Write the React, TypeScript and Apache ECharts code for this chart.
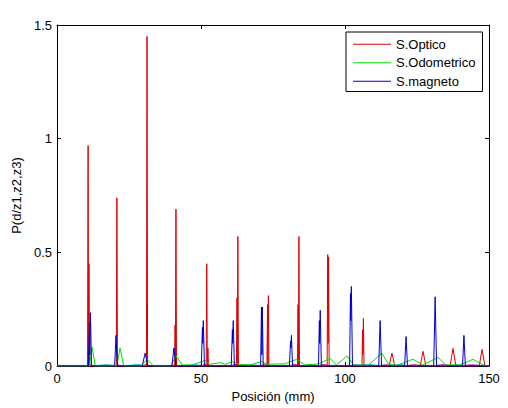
import React, { useEffect, useRef } from "react";
import * as echarts from "echarts";

const FONT = "Liberation Sans, Arial, sans-serif";

const legendNames = ["S.Optico", "S.Odometrico", "S.magneto"];
const xTicks = [0, 50, 100, 150];
const yTicks = [0, 0.5, 1, 1.5];

const optico: number[][] = [
  [0, 0], [10.6, 0], [10.8, 0.97], [10.95, 0], [11.1, 0.45], [11.3, 0],
  [20.6, 0], [20.8, 0.74], [21.0, 0],
  [31.05, 0], [31.25, 1.45], [31.45, 0],
  [40.9, 0], [41.0, 0.18], [41.1, 0], [41.3, 0.69], [41.5, 0],
  [51.8, 0], [52.0, 0.45], [52.2, 0], [52.4, 0.08], [52.6, 0],
  [62.3, 0], [62.5, 0.3], [62.6, 0], [62.8, 0.57], [63.0, 0],
  [72.9, 0], [73.1, 0.27], [73.2, 0], [73.4, 0.31], [73.6, 0],
  [83.5, 0], [83.7, 0.27], [83.8, 0], [84.0, 0.57], [84.2, 0],
  [93.8, 0], [94.0, 0.49], [94.15, 0.1], [94.3, 0.48], [94.5, 0],
  [105.9, 0], [106.1, 0.16], [106.2, 0.05], [106.4, 0.21], [106.6, 0],
  [115.3, 0], [116.3, 0.057], [117.3, 0],
  [126.1, 0], [127.1, 0.065], [128.1, 0],
  [136.5, 0], [137.5, 0.078], [138.5, 0],
  [146.6, 0], [147.6, 0.074], [148.6, 0],
  [150, 0],
];

const odometrico: number[][] = [
  [0, 0], [11.3, 0], [12.2, 0.083], [13.3, 0],
  [20.8, 0], [21.9, 0.08], [23.2, 0],
  [29.2, 0], [31.25, 0.03], [33.5, 0],
  [39.5, 0], [41.3, 0.045], [43.5, 0.005], [47, 0.005], [51.4, 0.025], [53, 0.008],
  [56.6, 0.015], [58.5, 0.008], [61, 0.02], [63, 0.008], [67, 0.005], [71, 0.02],
  [73, 0.008], [79, 0.01], [83.3, 0.03], [86, 0.005], [91, 0.01], [94.8, 0.035],
  [97, 0.005], [100.7, 0.045], [103, 0.005], [108, 0.003], [112.8, 0.057], [115, 0.01],
  [118, 0.003], [123.6, 0.03], [127, 0.005], [132.3, 0.038], [135, 0.005], [140, 0.005],
  [144.4, 0.03], [148, 0.005], [150, 0],
];

const magneto: number[][] = [
  [0, 0], [10.9, 0], [11.3, 0.19], [11.4, 0.05], [11.6, 0.235], [12.0, 0],
  [20.0, 0], [20.5, 0.135], [20.6, 0.1], [20.9, 0.02], [21.2, 0],
  [29.6, 0], [30.6, 0.057], [31.6, 0],
  [39.9, 0], [40.6, 0.08], [41.3, 0],
  [50.1, 0], [50.5, 0.17], [50.6, 0.1], [50.8, 0.2], [51.2, 0],
  [60.5, 0], [60.9, 0.16], [61.0, 0.1], [61.2, 0.2], [61.6, 0],
  [70.7, 0], [71.0, 0.26], [71.15, 0.05], [71.3, 0.26], [71.6, 0],
  [80.7, 0], [81.1, 0.11], [81.2, 0.08], [81.4, 0.135], [81.8, 0],
  [90.8, 0], [91.1, 0.2], [91.2, 0.1], [91.4, 0.245], [91.8, 0],
  [101.6, 0], [101.9, 0.32], [102.0, 0.2], [102.2, 0.35], [102.6, 0],
  [111.7, 0], [112.2, 0.2], [112.7, 0],
  [120.7, 0], [121.2, 0.13], [121.7, 0],
  [130.8, 0], [131.3, 0.305], [131.8, 0],
  [140.8, 0], [141.3, 0.135], [141.8, 0],
  [150, 0],
];

const magenta: number[][] = [
  [0, 0.002], [10.5, 0.002], [11.2, 0.008], [12, 0.002], [20.3, 0.002], [20.9, 0.008],
  [21.6, 0.002], [30.2, 0.002], [31.0, 0.01], [32, 0.002], [40.2, 0.002], [41.0, 0.008],
  [41.8, 0.002], [50.3, 0.002], [51.2, 0.008], [52, 0.002], [60.6, 0.002], [61.8, 0.008],
  [63, 0.002], [70.8, 0.002], [72, 0.008], [73.5, 0.002], [81, 0.002], [82.5, 0.008],
  [84, 0.002], [91, 0.002], [92.5, 0.008], [94.3, 0.002], [101.8, 0.002], [103, 0.006],
  [106.3, 0.002], [112, 0.002], [114, 0.006], [116.5, 0.002], [121, 0.002], [124, 0.006],
  [127, 0.002], [131, 0.002], [134, 0.006], [137.5, 0.002], [141, 0.002], [144, 0.006],
  [147.5, 0.002], [150, 0.002],
];

const cyan: number[][] = [
  [0, 0.003], [14, 0.003], [17, 0.006], [20, 0.003], [25, 0.003], [28, 0.007], [30, 0.003],
  [45, 0.003], [48, 0.006], [50, 0.003], [65, 0.003], [68, 0.006], [70, 0.003], [86, 0.003],
  [88, 0.006], [90, 0.003], [104, 0.003], [108, 0.008], [111, 0.003], [117, 0.003],
  [119, 0.008], [121, 0.003], [137, 0.003], [139, 0.007], [141, 0.003], [150, 0.003],
];

export default function App() {
  const ref = useRef<HTMLDivElement>(null);
  useEffect(() => {
    if (!ref.current) return;
    const chart = echarts.init(ref.current, undefined, { renderer: "svg" });
    const axisLabel = { fontFamily: FONT, fontSize: 13, color: "#000" };
    const axisLine = { show: true, onZero: false, lineStyle: { color: "#000", width: 1 } };
    const axisTick = { show: true, inside: true, length: 4, lineStyle: { color: "#000" } };
    const line = (name: string, data: number[][], color: string, z: number) => ({
      name,
      type: "line",
      data,
      symbol: "none",
      showSymbol: false,
      z,
      lineStyle: { color, width: 1 },
      itemStyle: { color },
    });
    chart.setOption({
      animation: false,
      backgroundColor: "#fff",
      grid: { left: 57, top: 25, right: 19, bottom: 41, containLabel: false },
      legend: {
        orient: "vertical",
        left: 346,
        top: 32,
        data: legendNames,
        icon: "path://M0,0L38,0L38,1L0,1Z",
        itemWidth: 38,
        itemHeight: 1,
        itemGap: 4,
        padding: [5, 7, 3, 7],
        borderColor: "#000",
        borderWidth: 1,
        backgroundColor: "#fff",
        selectedMode: false,
        textStyle: { fontFamily: FONT, fontSize: 13, color: "#000", lineHeight: 14.5 },
      },
      xAxis: [
        {
          type: "value",
          min: xTicks[0],
          max: xTicks[xTicks.length - 1],
          interval: 50,
          position: "bottom",
          name: "Posición (mm)",
          nameLocation: "middle",
          nameGap: 22,
          nameTextStyle: { fontFamily: FONT, fontSize: 13, color: "#000" },
          axisLine,
          axisTick,
          axisLabel: { ...axisLabel, margin: 6 },
          splitLine: { show: false },
        },
        {
          type: "value",
          min: xTicks[0],
          max: xTicks[xTicks.length - 1],
          interval: 50,
          position: "top",
          axisLine,
          axisTick,
          axisLabel: { show: false },
          splitLine: { show: false },
        },
      ],
      yAxis: [
        {
          type: "value",
          min: yTicks[0],
          max: yTicks[yTicks.length - 1],
          interval: 0.5,
          position: "left",
          name: "P(d/z1,z2,z3)",
          nameLocation: "middle",
          nameGap: 30,
          nameTextStyle: { fontFamily: FONT, fontSize: 13, color: "#000" },
          axisLine,
          axisTick,
          axisLabel: { ...axisLabel, margin: 5 },
          splitLine: { show: false },
        },
        {
          type: "value",
          min: yTicks[0],
          max: yTicks[yTicks.length - 1],
          interval: 0.5,
          position: "right",
          axisLine,
          axisTick,
          axisLabel: { show: false },
          splitLine: { show: false },
        },
      ],
      series: [
        line("S.Optico", optico, "#dd0000", 3),
        line("S.Odometrico", odometrico, "#00dd00", 4),
        line("S.magneto", magneto, "#0000cc", 5),
        line("m", magenta, "#c000c0", 2),
        line("c", cyan, "#00bbbb", 1),
      ],
    });
    return () => chart.dispose();
  }, []);
  return (
    <div
      ref={ref}
      style={{ position: "absolute", left: 0, top: 0, width: 508, height: 408 }}
    />
  );
}
